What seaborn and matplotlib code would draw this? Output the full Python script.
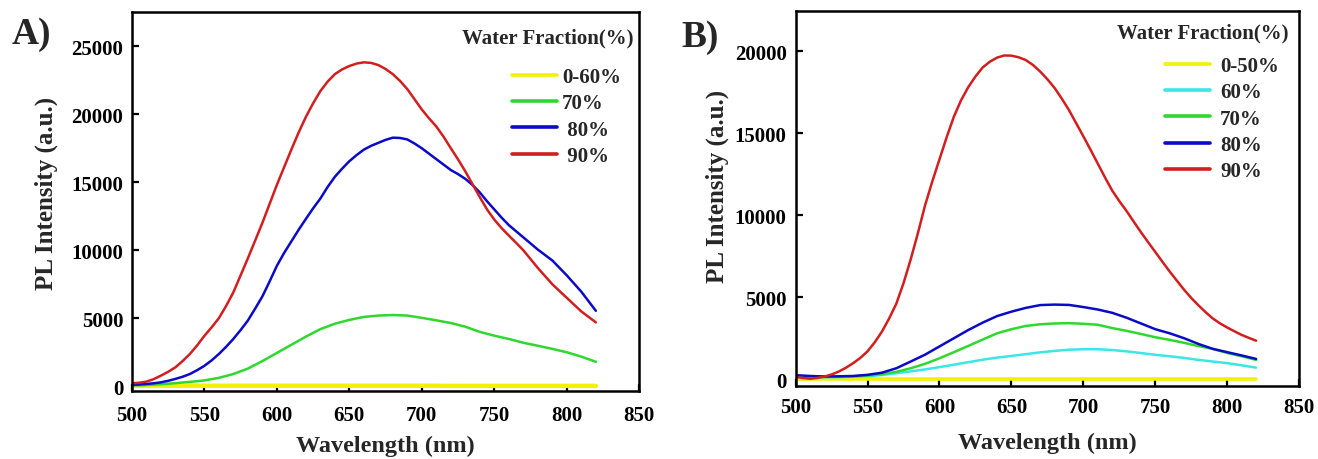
import numpy as np
import pandas as pd
import matplotlib
matplotlib.use("Agg")
import matplotlib.pyplot as plt
import seaborn as sns

# ---------------- data ----------------
wl10 = list(range(500, 821, 10))
wl5 = list(range(500, 821, 5))

# Panel A
a_labels = ["0-60%", "70%", " 80%", " 90%"]
a_colors = ["#f2f200", "#2fd82f", "#0a0ac8", "#d21e1e"]
a_0_60 = [40, 40, 40, 40, 40, 40, 40, 40, 40, 40, 40, 40, 40, 40, 40, 40, 40,
          40, 40, 40, 40, 40, 30, 30, 30, 30, 30, 30, 30, 30, 30, 30, 30]
a_70 = [50, 90, 150, 230, 320, 430, 620, 900, 1300, 1850, 2450, 3050, 3650,
        4200, 4600, 4880, 5100, 5200, 5240, 5200, 5030, 4850, 4650, 4380,
        4000, 3720, 3480, 3200, 2980, 2750, 2500, 2180, 1800]
a_80 = [100, 130, 170, 220, 290, 400, 540, 700, 900, 1180, 1500, 1900, 2370,
        2900, 3480, 4130, 4830, 5700, 6600, 7700, 8850, 9800, 10650, 11500,
        12300, 13080, 13800, 14650, 15400, 16000, 16550, 17000, 17400, 17680,
        17900, 18120, 18280, 18260, 18150, 17850, 17500, 17100, 16700, 16300,
        15900, 15600, 15250, 14800, 14250, 13600, 13000, 12400, 11850, 11400,
        10950, 10500, 10050, 9650, 9250, 8700, 8150, 7550, 6950, 6250, 5550]
a_90 = [220, 260, 340, 520, 780, 1060, 1390, 1850, 2370, 3000, 3700, 4330,
        5000, 5900, 6900, 8150, 9400, 10700, 12000, 13400, 14800, 16100, 17400,
        18650, 19800, 20800, 21700, 22400, 22950, 23300, 23550, 23730, 23820,
        23780, 23620, 23330, 22950, 22450, 21850, 21100, 20350, 19700, 19100,
        18350, 17500, 16680, 15800, 14850, 13900, 13000, 12250, 11630, 11080,
        10550, 10000, 9350, 8700, 8100, 7500, 7000, 6500, 6000, 5500, 5100,
        4700]
a_series = [a_0_60, a_70, a_80, a_90]
a_x = [wl10, wl10, wl5, wl5]

# Panel B
b_labels = ["0-50%", "60%", "70%", "80%", "90%"]
b_colors = ["#f2f200", "#3ae6e6", "#2fd82f", "#0a0ac8", "#d21e1e"]
b_0_50 = [20, 20, 20, 20, 20, 20, 20, 20, 20, 20, 20, 20, 20, 20, 20, 20, 20,
          20, 20, 20, 20, 20, 20, 20, 20, 20, 20, 20, 20, 20, 20, 20, 20]
b_60 = [150, 130, 120, 130, 150, 180, 260, 370, 480, 600, 740, 890, 1040,
        1190, 1320, 1420, 1530, 1640, 1730, 1800, 1830, 1830, 1780, 1700,
        1600, 1490, 1400, 1300, 1180, 1080, 980, 850, 710]
b_70 = [200, 150, 140, 150, 180, 230, 310, 450, 670, 940, 1280, 1650, 2030,
        2420, 2800, 3050, 3250, 3350, 3400, 3420, 3380, 3320, 3120, 2950,
        2760, 2560, 2400, 2220, 2020, 1850, 1600, 1400, 1180]
b_80 = [250, 200, 170, 180, 200, 270, 400, 670, 1080, 1500, 2000, 2500, 3000,
        3450, 3850, 4120, 4350, 4520, 4550, 4530, 4400, 4250, 4050, 3750,
        3400, 3050, 2800, 2500, 2150, 1850, 1650, 1450, 1240]
b_90 = [150, 80, 30, 80, 160, 290, 470, 700, 980, 1300, 1700, 2250, 2900,
        3700, 4600, 5850, 7300, 8900, 10600, 12050, 13400, 14750, 16000,
        17000, 17800, 18450, 19000, 19350, 19600, 19730, 19720, 19620, 19450,
        19150, 18750, 18280, 17750, 17100, 16400, 15600, 14800, 13980, 13140,
        12300, 11500, 10850, 10250, 9600, 8960, 8350, 7750, 7150, 6560, 6000,
        5450, 4950, 4500, 4080, 3700, 3400, 3150, 2920, 2700, 2520, 2350]
b_series = [b_0_50, b_60, b_70, b_80, b_90]
b_x = [wl10, wl10, wl10, wl10, wl5]

x_ticks = [500, 550, 600, 650, 700, 750, 800, 850]
a_yticks = [0, 5000, 10000, 15000, 20000, 25000]
b_yticks = [0, 5000, 10000, 15000, 20000]

# ---------------- style ----------------
sns.set_style("ticks")
plt.rcParams["font.family"] = ["Liberation Serif", "DejaVu Serif"]
plt.rcParams["font.weight"] = "bold"
plt.rcParams["axes.labelweight"] = "bold"

fig = plt.figure(figsize=(13.18, 4.6), dpi=100)
axA = fig.add_axes([0.1000, 0.1485, 0.3851, 0.8226])
axB = fig.add_axes([0.6036, 0.1580, 0.3822, 0.8159])


def draw(ax, xs, series, labels, colors, ylim, yticks, yellow_lw):
    for xv, vals, lab, col in zip(xs, series, labels, colors):
        df = pd.DataFrame({"Wavelength": xv, "PL": vals})
        lw = yellow_lw if col == "#f2f200" else 1.8
        sns.lineplot(data=df, x="Wavelength", y="PL", ax=ax, color=col,
                     lw=lw, label=lab, legend=False)
    ax.set_xlim(500, 850)
    ax.set_ylim(*ylim)
    ax.set_xticks(x_ticks)
    ax.set_yticks(yticks)
    for s in ax.spines.values():
        s.set_visible(True)
        s.set_linewidth(1.8)
        s.set_color("black")
    ax.tick_params(direction="in", length=5, width=1.6, top=False,
                   right=False, labelsize=15, colors="black")
    for t in ax.get_xticklabels() + ax.get_yticklabels():
        t.set_fontweight("bold")
    ax.set_xlabel("Wavelength (nm)", fontsize=17.5, fontweight="bold")
    ax.set_ylabel("PL Intensity (a.u.)", fontsize=18, fontweight="bold")
    ax.xaxis.label.set_va("center")
    ax.yaxis.label.set_va("center")


draw(axA, a_x, a_series, a_labels, a_colors, (-324, 27500), a_yticks, 3.2)
draw(axB, b_x, b_series, b_labels, b_colors, (-430, 22440), b_yticks, 2.6)

axA.tick_params(axis="x", pad=10.5)
axA.tick_params(axis="y", pad=6)
axB.tick_params(axis="x", pad=8)
axB.tick_params(axis="y", pad=6.5)

axA.xaxis.set_label_coords(0.5, -0.145)
axA.yaxis.set_label_coords(-0.168, 0.525)
axB.xaxis.set_label_coords(0.5, -0.149)
axB.yaxis.set_label_coords(-0.156, 0.534)

legA = axA.legend(loc="upper left", bbox_to_anchor=(0.7486, 0.855),
                  frameon=False, borderpad=0, borderaxespad=0,
                  handlelength=2.16, handletextpad=0.24, labelspacing=0.3,
                  prop={"weight": "bold", "size": 15})
legB = axB.legend(loc="upper left", bbox_to_anchor=(0.7334, 0.880),
                  frameon=False, borderpad=0, borderaxespad=0,
                  handlelength=2.16, handletextpad=0.48, labelspacing=0.3,
                  prop={"weight": "bold", "size": 15})
for leg in (legA, legB):
    for h in leg.get_lines():
        h.set_linewidth(2.6)

axA.text(0.988, 0.933, "Water Fraction(%)", transform=axA.transAxes,
         ha="right", va="center", fontsize=15, fontweight="bold")
axB.text(0.978, 0.943, "Water Fraction(%)", transform=axB.transAxes,
         ha="right", va="center", fontsize=15, fontweight="bold")

fig.text(0.0089, 0.924, "A)", ha="left", va="center", fontsize=27,
         fontweight="bold")
fig.text(0.5172, 0.918, "B)", ha="left", va="center", fontsize=27,
         fontweight="bold")

fig.savefig("out.png", dpi=100)
